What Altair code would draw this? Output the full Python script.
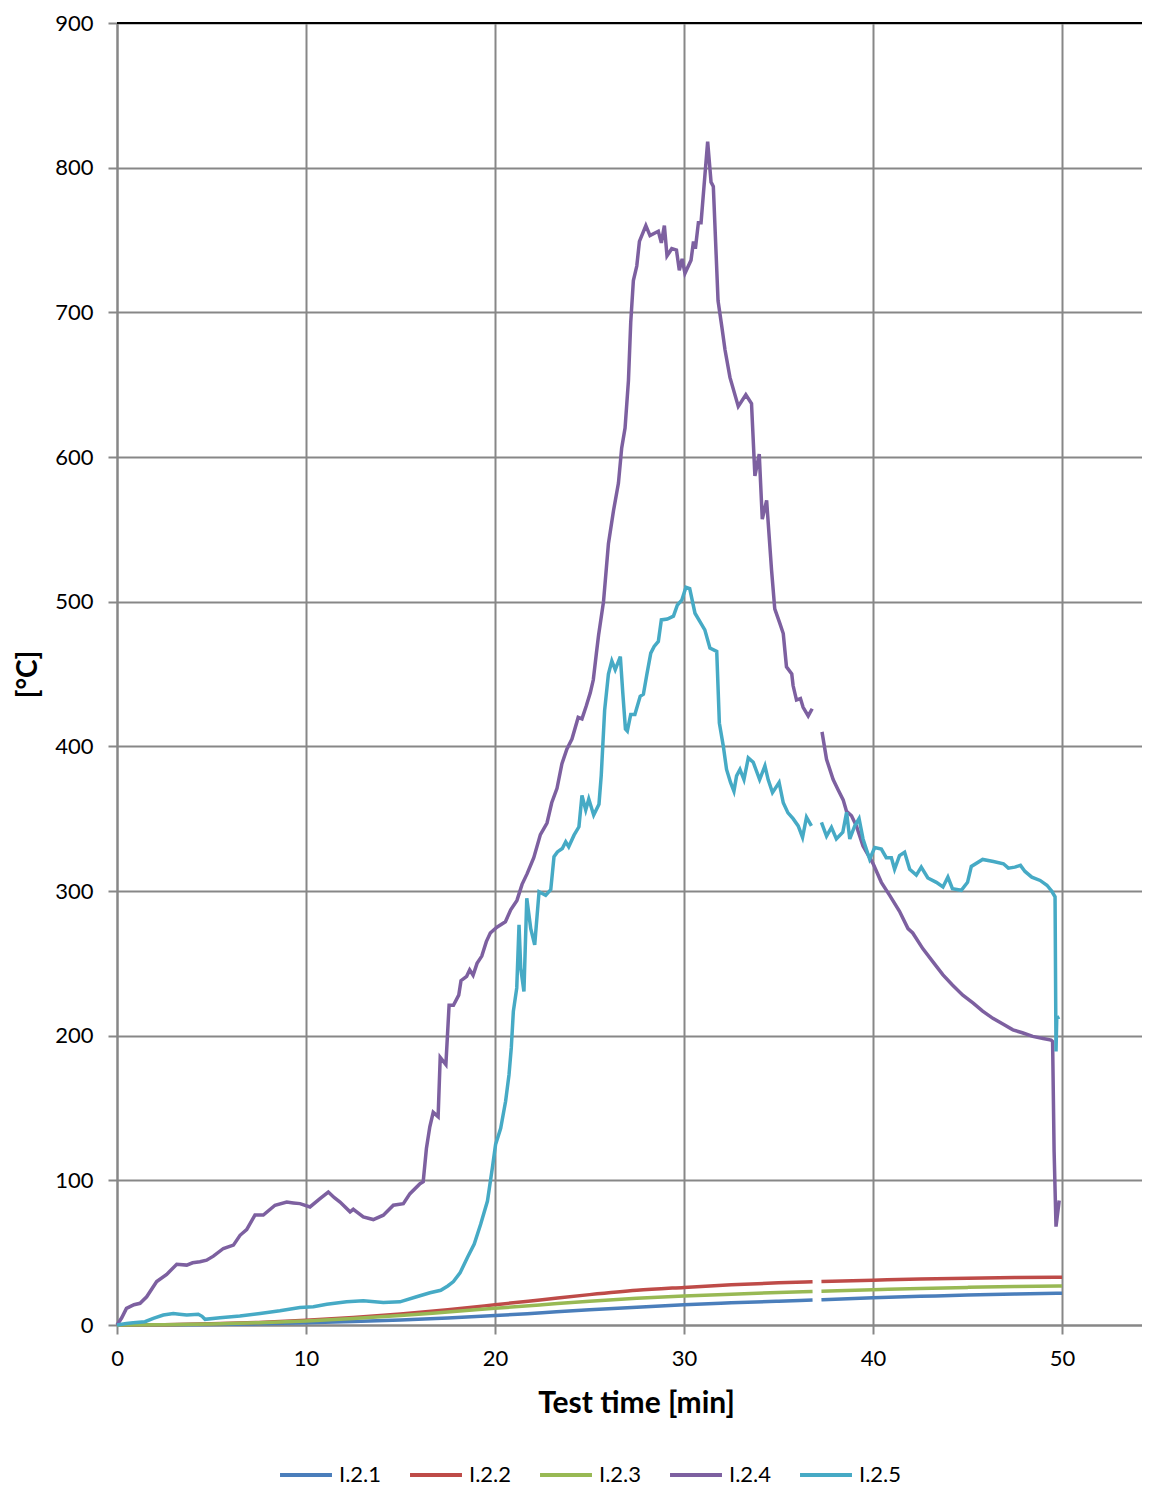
import altair as alt
import pandas as pd

SERIES = ["I.2.1", "I.2.2", "I.2.3", "I.2.4", "I.2.5"]
COLORS = ["#4A7EBB", "#BE4B48", "#98B954", "#7D60A0", "#46AAC5"]

# ---- smooth series (I.2.1 .. I.2.3), two segments (gap ~36.8-37.3 min)
smooth_t_a = [0, 2.5, 5, 7.5, 10, 12.5, 15, 17.5, 20, 22.5, 25, 27.5, 30, 32.5, 35, 36.8]
smooth_t_b = [37.27, 40, 42.5, 45, 47.5, 50]
i21_a = [0, 0.1, 0.3, 0.8, 1.5, 2.4, 3.5, 4.9, 6.5, 8.5, 10.5, 12.3, 14, 15.3, 16.5, 17.3]
i21_b = [17.5, 18.8, 19.8, 20.7, 21.4, 22]
i22_a = [0, 0.2, 0.8, 1.8, 3.2, 5.2, 7.6, 10.6, 14, 17.5, 21, 24, 26, 27.8, 29.2, 29.9]
i22_b = [30.1, 31, 31.8, 32.4, 32.8, 33]
i23_a = [0, 0.2, 0.7, 1.6, 2.8, 4.5, 6.5, 9, 11.5, 14, 16.5, 18.5, 20, 21.3, 22.5, 23.2]
i23_b = [23.4, 24.4, 25.3, 26, 26.6, 27]

# ---- I.2.4
i24_t_a = [0, 0.25, 0.5, 0.9, 1.22, 1.57, 2.1, 2.63, 3.16, 3.69, 4.0, 4.39, 4.74, 5.1, 5.63,
           6.16, 6.51, 6.86, 7.3, 7.74, 8.36, 8.98, 9.33, 9.68, 10.21, 10.74, 11.18, 11.5, 11.8,
           12.33, 12.5, 12.68, 13.03, 13.56, 14.09, 14.62, 15.15, 15.5, 16.03, 16.2, 16.37,
           16.55, 16.73, 16.99, 17.1, 17.4, 17.57, 17.8, 18.08, 18.2, 18.5, 18.66, 18.84,
           19.05, 19.3, 19.54, 19.75, 20.1, 20.55, 20.83, 21.16, 21.43, 21.7, 22.05, 22.4,
           22.75, 23.0, 23.28, 23.54, 23.8, 24.07, 24.4, 24.6, 24.83, 25.04, 25.2, 25.36,
           25.48, 25.74, 26.0, 26.27, 26.53, 26.7, 26.88, 27.06, 27.18, 27.32, 27.5, 27.64,
           27.98, 28.2, 28.64, 28.8, 28.96, 29.1, 29.35, 29.6, 29.75, 29.9, 30.05, 30.37,
           30.5, 30.6, 30.76, 30.9, 31.25, 31.43, 31.55, 31.8, 32.0, 32.17, 32.43, 32.87,
           33.27, 33.57, 33.75, 33.98, 34.14, 34.37, 34.63, 34.8, 35.07, 35.25, 35.42, 35.7,
           35.77, 35.95, 36.16, 36.3, 36.57, 36.78]
i24_v_a = [0, 5, 11.5, 14, 15, 19.5, 30, 35, 42, 41.4, 43, 43.7, 44.8, 47.6, 52.9,
           55.2, 62, 66, 76, 76, 82.8, 85, 84.4, 83.9, 81.6, 87.3, 91.9, 88, 85,
           78.2, 80, 78.2, 74.7, 72.9, 75.9, 82.8, 83.9, 90.8, 97.7, 99, 122,
           137, 147, 144, 185, 180, 221, 221, 228, 238, 241, 245.5, 241.8,
           250, 255, 265, 271, 275, 278.7, 287, 293.5, 304.6, 312, 323, 339,
           347, 361, 371, 388, 398, 405, 420, 419, 428, 437, 446, 464,
           477, 500, 540, 563, 582, 606, 620, 653, 693, 722, 732, 749,
           760, 753, 756, 748, 760, 739, 744, 743, 729, 737, 727, 736,
           749, 744, 762, 762, 818, 790, 787, 708, 690, 674, 655, 635,
           643, 637, 587, 602, 557, 570, 522, 495, 485, 478, 455, 450,
           442, 432, 433, 427, 421, 426]
i24_t_b = [37.3, 37.54, 37.89, 38.15, 38.42, 38.6, 38.86, 39.12, 39.47, 39.82, 40.0, 40.44,
           40.88, 41.4, 41.85, 42.1, 42.64, 43.17, 43.7, 44.2, 44.75, 45.3, 45.8, 46.34,
           46.87, 47.4, 47.9, 48.45, 49.0, 49.42, 49.5, 49.58, 49.68, 49.85]
i24_v_b = [410, 391, 377, 370, 363, 355, 352, 345, 331, 323, 319, 306,
           297, 286, 274, 271, 260, 251, 242, 235, 228, 222.5, 217, 212,
           208, 204, 202, 199.5, 198, 197, 196, 120, 68, 86]

# ---- I.2.5
i25_t_a = [0, 0.5, 0.86, 1.48, 1.92, 2.45, 2.98, 3.3, 3.69, 4.3, 4.5, 4.66, 5.45, 6.5, 7.57,
           8.62, 9.68, 10.39, 11.1, 12.15, 13.03, 14.09, 14.97, 15.85, 16.56, 17.13, 17.5,
           17.8, 18.15, 18.54, 18.9, 19.24, 19.6, 19.86, 20.03, 20.3, 20.56, 20.74, 20.86,
           20.97, 21.15, 21.27, 21.36, 21.53, 21.68, 21.89, 22.1, 22.33, 22.68, 22.95, 23.12,
           23.3, 23.56, 23.74, 23.9, 24.18, 24.44, 24.6, 24.8, 24.96, 25.22, 25.5, 25.62,
           25.8, 26.0, 26.18, 26.36, 26.63, 26.76, 26.9, 27.0, 27.18, 27.4, 27.68, 27.85,
           28.03, 28.24, 28.42, 28.64, 28.8, 29.12, 29.44, 29.65, 29.88, 30.1, 30.3, 30.58,
           30.85, 31.1, 31.37, 31.73, 31.87, 32.08, 32.25, 32.46, 32.64, 32.78, 32.96, 33.17,
           33.4, 33.66, 34.0, 34.28, 34.45, 34.68, 35.03, 35.25, 35.5, 35.77, 36.04, 36.27,
           36.48, 36.74]
i25_v_a = [0, 1, 1.6, 2.3, 4.6, 6.9, 8, 7.5, 6.9, 7.4, 6, 3.9, 5, 6.2, 8,
           9.8, 12.1, 12.6, 14.4, 16, 16.7, 15.6, 16, 19.5, 22.3, 24, 27,
           30, 36, 46.7, 56, 69.7, 85.7, 108.7, 124.8, 136, 154.7, 173, 191.5,
           216.8, 233, 276.6, 246.7, 230.6, 295, 274, 262.8, 299.5, 297, 301, 323.7,
           327, 329.4, 334, 330.6, 338.6, 344.4, 366, 356, 363.6, 352.5, 360, 380,
           425, 450, 459, 453, 462, 437, 412, 410.6, 422, 422, 434.6, 436,
           449.5, 464.4, 469, 472.5, 487.4, 488, 490, 497.7, 501, 510, 509, 492,
           486, 480.5, 468, 465.6, 416, 400, 384, 375, 369, 379.6, 384, 377,
           392, 389, 377, 386.5, 377, 368, 375, 361, 354, 350, 345, 337,
           351, 345]
i25_t_b = [37.27, 37.54, 37.8, 38.06, 38.4, 38.6, 38.77, 39.03, 39.26, 39.47, 39.82, 40.09,
           40.44, 40.7, 40.97, 41.14, 41.4, 41.67, 41.94, 42.29, 42.55, 42.9, 43.35, 43.7,
           43.96, 44.2, 44.67, 45.0, 45.2, 45.8, 46.37, 46.9, 47.16, 47.5, 47.8, 48.04,
           48.4, 48.84, 49.2, 49.45, 49.63, 49.68, 49.72, 49.86]
i25_v_b = [347.5, 338, 344, 336, 340.6, 354.4, 336, 345, 350, 336, 322, 330,
           329, 323, 323, 315, 324.5, 326.8, 315, 311, 316.5, 309, 306, 302.8,
           309.6, 301.6, 300.5, 306, 317, 321.8, 320.4, 318.8, 315.8, 316.5, 317.7, 313.5,
           309.6, 307.3, 304, 300, 296, 189, 212, 213]

X_TICKS = [0, 10, 20, 30, 40, 50]
Y_TICKS = [0, 100, 200, 300, 400, 500, 600, 700, 800, 900]


def rows(name, ts, vs, seg):
    return [{"series": name, "t": t, "v": v, "seg": f"{name}-{seg}"} for t, v in zip(ts, vs)]


smooth_rows = []
for name, a, b in [("I.2.1", i21_a, i21_b), ("I.2.2", i22_a, i22_b), ("I.2.3", i23_a, i23_b)]:
    smooth_rows += rows(name, smooth_t_a, a, 1) + rows(name, smooth_t_b, b, 2)
noisy_rows = (rows("I.2.4", i24_t_a, i24_v_a, 1) + rows("I.2.4", i24_t_b, i24_v_b, 2)
              + rows("I.2.5", i25_t_a, i25_v_a, 1) + rows("I.2.5", i25_t_b, i25_v_b, 2))

smooth_df = pd.DataFrame(smooth_rows)
noisy_df = pd.DataFrame(noisy_rows)

FONT = "Lato"
GRID = "#878787"
PLOT_W = 1025
PLOT_H = 1302

x_enc = alt.X("t:Q",
              scale=alt.Scale(domain=[0, 54.23], nice=False, zero=False),
              axis=alt.Axis(values=X_TICKS, title="Test time [min]", grid=True,
                            gridColor=GRID, gridWidth=2, domainColor=GRID, domainWidth=2,
                            tickColor=GRID, tickWidth=2, tickSize=9, labelFlush=False,
                            labelFont=FONT, labelFontSize=22, labelColor="#000000",
                            labelPadding=14, titleFont=FONT, titleFontSize=30,
                            titleFontWeight="bold", titleColor="#000000",
                            titleX=519, titleY=78, titleAlign="center",
                            titleBaseline="middle"))
y_enc = alt.Y("v:Q",
              scale=alt.Scale(domain=[0, 900], nice=False),
              axis=alt.Axis(values=Y_TICKS, title="[°C]", grid=True,
                            gridColor=GRID, gridWidth=2, domainColor=GRID, domainWidth=2,
                            tickColor=GRID, tickWidth=2, tickSize=9, labelFlush=False,
                            labelFont=FONT, labelFontSize=22, labelColor="#000000",
                            labelPadding=15, titleFont=FONT, titleFontSize=28,
                            titleFontWeight="bold", titleColor="#000000",
                            titleX=-89, titleY=651, titleAngle=270, titleAlign="center",
                            titleBaseline="middle"))
color_enc = alt.Color("series:N",
                      scale=alt.Scale(domain=SERIES, range=COLORS),
                      legend=alt.Legend(title=None, orient="none", legendX=161, legendY=1424,
                                        direction="horizontal", columns=5,
                                        symbolType="stroke", symbolSize=2700,
                                        symbolStrokeWidth=4, labelFont=FONT,
                                        labelFontSize=22, labelColor="#000000",
                                        labelOffset=5, columnPadding=20))

smooth = alt.Chart(smooth_df).mark_line(strokeWidth=3.5, interpolate="monotone").encode(
    x=x_enc, y=y_enc, color=color_enc, detail="seg:N")
noisy = alt.Chart(noisy_df).mark_line(strokeWidth=3.5).encode(
    x=x_enc, y=y_enc, color=color_enc, detail="seg:N", order="t:Q")

top_df = pd.DataFrame({"v": [900]})
top_line = alt.Chart(top_df).mark_rule(color="#000000", strokeWidth=2).encode(y="v:Q")

chart = alt.layer(smooth, noisy, top_line).properties(
    width=PLOT_W, height=PLOT_H,
    autosize=alt.AutoSizeParams(type="none"),
    padding={"left": 109, "top": 15, "right": 0, "bottom": 161},
).configure_view(stroke=None).configure(background="#ffffff")

chart.save("out.html", embed_options={"renderer": "svg", "actions": False})
